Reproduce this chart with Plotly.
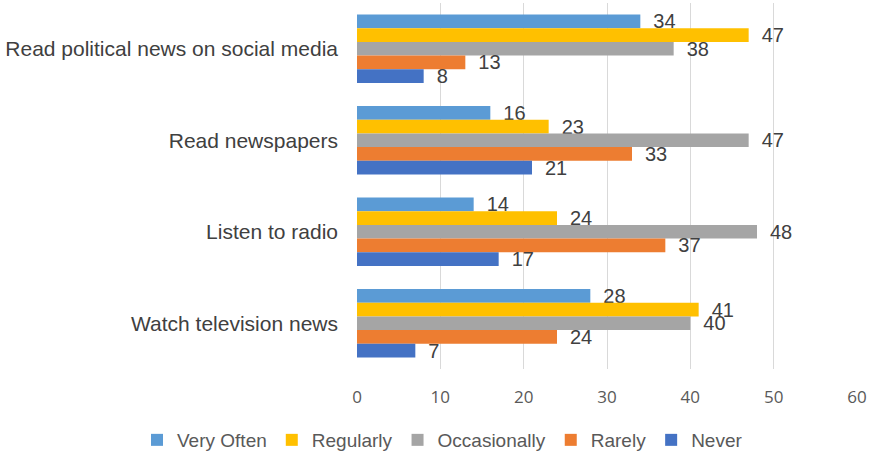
import plotly.graph_objects as go

categories = ["Read political news on social media", "Read newspapers", "Listen to radio", "Watch television news"]
series_names = ["Very Often", "Regularly", "Occasionally", "Rarely", "Never"]
very_often = [34, 16, 14, 28]
regularly = [47, 23, 24, 41]
occasionally = [38, 47, 48, 40]
rarely = [13, 33, 37, 24]
never = [8, 21, 17, 7]
colors = ["#5B9BD5", "#FFC000", "#A5A5A5", "#ED7D31", "#4472C4"]
x_ticks = [0, 10, 20, 30, 40, 50, 60]

fig = go.Figure()
for name, vals, col in zip(series_names, [very_often, regularly, occasionally, rarely, never], colors):
    fig.add_trace(go.Bar(
        y=categories, x=vals, name=name, orientation="h",
        marker=dict(color=col, line=dict(width=0)),
        text=["\u2002" + str(v) for v in vals], textposition="outside", constraintext="none",
        textfont=dict(size=20, color="#404040"), cliponaxis=False,
    ))

fig.update_layout(
    width=871, height=454,
    margin=dict(l=357, r=14, t=3, b=85, autoexpand=False),
    barmode="group", bargap=0.25, bargroupgap=0,
    plot_bgcolor="white", paper_bgcolor="white",
    font=dict(family="Liberation Sans, Arial, sans-serif", color="#595959"),
    xaxis=dict(range=[0, 60], tickvals=x_ticks, showgrid=True, gridcolor="#D9D9D9", gridwidth=1,
               zeroline=False, showline=False, ticks="", automargin=False,
               tickfont=dict(size=17, color="#595959", family="Open Sans, Liberation Sans, sans-serif"),
               ticklabelstandoff=16),
    yaxis=dict(autorange="reversed", showgrid=False, showline=False, ticks="", automargin=False,
               tickfont=dict(size=21, color="#404040"), ticklabelstandoff=18),
    legend=dict(orientation="h", x=-0.44, xanchor="left", y=-0.194, yanchor="middle",
                font=dict(size=19, color="#595959"), bgcolor="rgba(0,0,0,0)"),
    showlegend=True,
)
fig.write_html("out.html", config={"displayModeBar": False},
               post_script="document.body.style.margin='0px';document.body.style.padding='0px';")
